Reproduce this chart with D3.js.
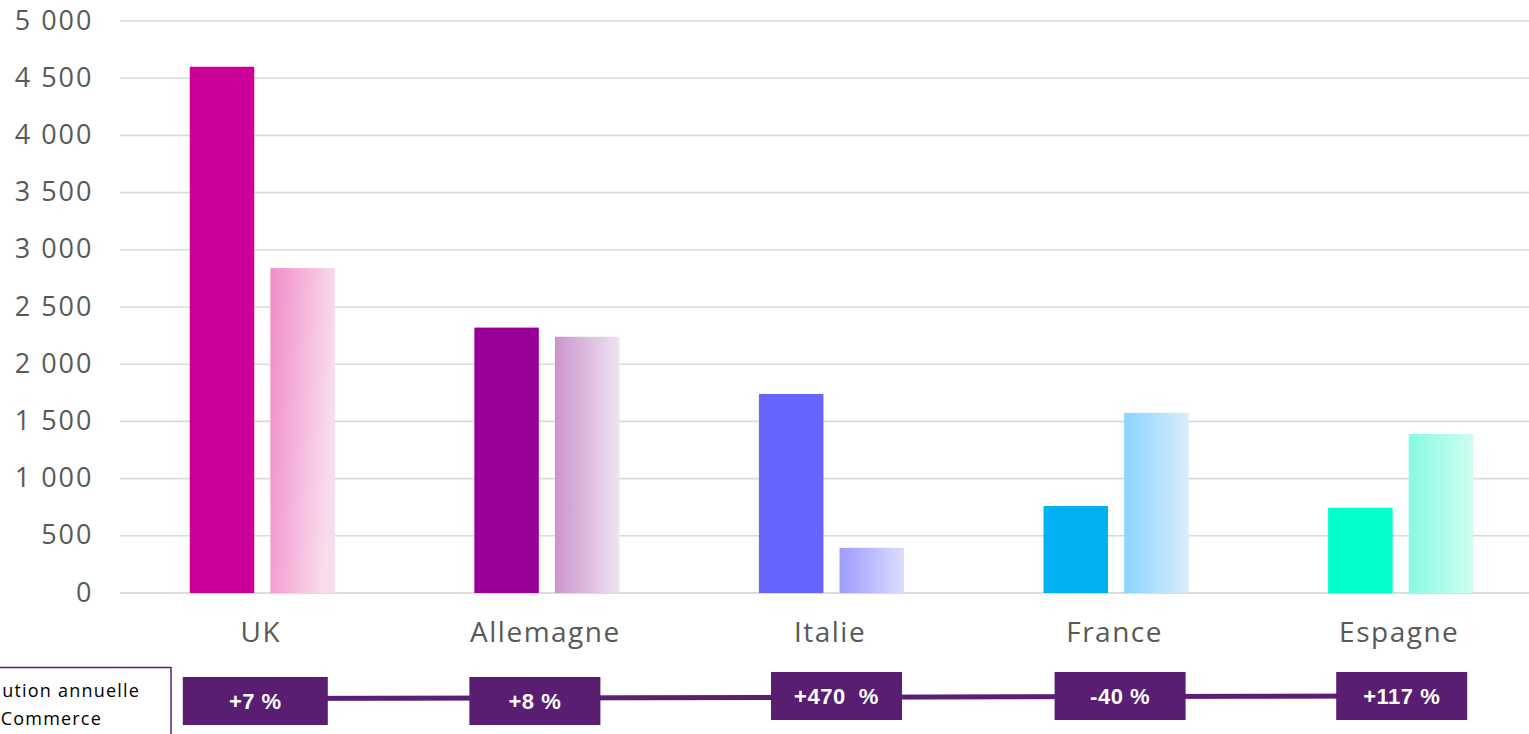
<!DOCTYPE html>
<html><head><meta charset="utf-8">
<script src="https://cdn.jsdelivr.net/npm/d3@7"></script>
<style>html,body{margin:0;padding:0;background:#fff;overflow:hidden}</style>
</head><body>
<svg id="c" width="1529" height="734"></svg>
<script>
const categories = ["UK","Allemagne","Italie","France","Espagne"];
const seriesA = [4600, 2320, 1740, 760, 745];
const seriesB = [2840, 2240, 395, 1575, 1390];
const growthLabels = ["+7 %","+8 %","+470  %","-40 %","+117 %"];
const yTicks = [0,500,1000,1500,2000,2500,3000,3500,4000,4500,5000];
const legendLines = ["Évolution annuelle","Commerce"];

const solidColors = ["#cc0099","#990099","#6666ff","#00b0f0","#00ffcc"];
const gradColors = [["#f08cc8","#f9dcec"],["#cb94cc","#efe3f1"],["#9c9cfe","#dcdcfe"],["#8bd4fe","#d8edfc"],["#86fbe3","#d0fdf1"]];

const svg = d3.select("#c");
const y = d3.scaleLinear().domain([0,5000]).range([593,21]);
const x0 = d3.scaleBand().domain(categories).range([120,1543]).paddingInner(0.49).paddingOuter(0.245);
const x1 = d3.scaleBand().domain([0,1]).range([0,x0.bandwidth()]).paddingInner(0.2);

const defs = svg.append("defs");
gradColors.forEach((c,i)=>{
  const g = defs.append("linearGradient").attr("id","g"+i).attr("x1","0").attr("y1","0").attr("x2","1").attr("y2", i===0?"0.25":"0");
  g.append("stop").attr("offset","0%").attr("stop-color",c[0]);
  g.append("stop").attr("offset","100%").attr("stop-color",c[1]);
});

// grid
svg.append("g").selectAll("line").data(yTicks).join("line")
  .attr("x1",120).attr("x2",1529)
  .attr("y1",d=>y(d)).attr("y2",d=>y(d))
  .attr("stroke",d=>d===0?"#d0d0d0":"#dadada").attr("stroke-width",1.6);

// y axis labels
const yAxis = d3.axisLeft(y).tickValues(yTicks).tickSize(0).tickPadding(0)
  .tickFormat(d=>d3.format(",")(d).replace(/,/g," "));
const ya = svg.append("g").attr("transform","translate(93.5,0)").call(yAxis);
ya.select(".domain").remove();
ya.selectAll("text").attr("font-family","Open Sans, sans-serif").attr("font-size",27)
  .attr("letter-spacing",2.0).attr("fill","#595959").attr("dy","0.3em");

// bars
const g = svg.append("g");
categories.forEach((c,i)=>{
  g.append("rect").attr("x",x0(c)+x1(0)).attr("width",x1.bandwidth())
    .attr("y",y(seriesA[i])).attr("height",y(0)-y(seriesA[i])).attr("fill",solidColors[i]);
  g.append("rect").attr("x",x0(c)+x1(1)).attr("width",x1.bandwidth())
    .attr("y",y(seriesB[i])).attr("height",y(0)-y(seriesB[i])).attr("fill","url(#g"+i+")");
});

// x labels
const xAxis = d3.axisBottom(x0).tickSize(0).tickPadding(0);
const xa = svg.append("g").attr("transform","translate(-1.5,642)").call(xAxis);
xa.select(".domain").remove();
xa.selectAll("text").attr("font-family","Open Sans, sans-serif").attr("font-size",28)
  .attr("letter-spacing",1.5).attr("fill","#595959").attr("y",0).attr("dy","0");

// growth line and boxes
const boxW = [145,131,131,131,131];
const boxDx = [-7,-12,5,4,1];
const boxCy = [701,701,696,696,696];
const cx = categories.map((c,i)=>x0(c)+x0.bandwidth()/2+boxDx[i]);
svg.append("line").attr("x1",cx[0]).attr("x2",cx[4]).attr("y1",698.5).attr("y2",696)
  .attr("stroke","#5a1e73").attr("stroke-width",5);
const bx = svg.append("g");
categories.forEach((c,i)=>{
  bx.append("rect").attr("x",cx[i]-boxW[i]/2).attr("y",boxCy[i]-24).attr("width",boxW[i]).attr("height",48).attr("fill","#591d72");
  bx.append("text").attr("x",cx[i]).attr("y",boxCy[i]).attr("dy","0.36em").attr("text-anchor","middle")
    .attr("font-family","Liberation Sans, Arial, sans-serif").attr("font-weight","bold").attr("font-size",22)
    .attr("letter-spacing",0.5)
    .attr("fill","#fff").attr("xml:space","preserve").style("white-space","pre").text(growthLabels[i]);
});

// legend box
svg.append("rect").attr("x",-10).attr("y",667.5).attr("width",181).attr("height",80)
  .attr("fill","#fff").attr("stroke","#5a1e73").attr("stroke-width",1.5);
const lt = svg.append("text").attr("font-family","Open Sans, sans-serif").attr("font-size",18)
  .attr("letter-spacing",1.2).attr("fill","#000");
lt.append("tspan").attr("x",140).attr("y",697).attr("text-anchor","end").text(legendLines[0]);
lt.append("tspan").attr("x",102).attr("y",725).attr("text-anchor","end").text(legendLines[1]);
</script>
</body></html>
